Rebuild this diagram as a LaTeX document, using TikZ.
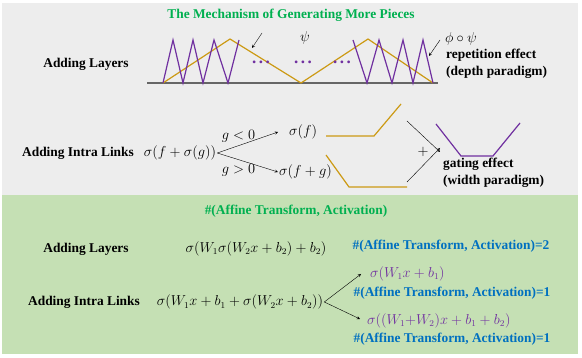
\documentclass[tikz,border=0pt]{standalone}
\usepackage{fontspec}
\setmainfont{Liberation Serif}
\usetikzlibrary{positioning}
\definecolor{titlegreen}{HTML}{00B050}
\definecolor{countblue}{HTML}{0070C0}
\definecolor{zigpurple}{HTML}{7030A0}
\definecolor{waveorange}{HTML}{CC9A14}
\definecolor{panelgray}{HTML}{EDEDED}
\definecolor{panelgreen}{HTML}{C5E0B4}
\newcommand{\bigtext}{\fontsize{13.4}{17}\selectfont}
\newcommand{\wideellipsis}{.\kern2.5pt.\kern2.5pt.}
\begin{document}
\begin{tikzpicture}[
        x=1pt, y=-1pt,
        heading/.style={font=\bigtext\bfseries, inner sep=1pt},
        title/.style={font=\bigtext\bfseries, text=titlegreen, inner sep=1pt},
        count/.style={font=\bigtext\bfseries, text=countblue, inner sep=1pt},
        formula/.style={font=\bigtext, inner sep=1pt},
        dotrow/.style={font=\fontsize{17}{20}\selectfont\bfseries, text=zigpurple, inner sep=0pt, anchor=base},
        note/.style={font=\bigtext\bfseries, align=left, anchor=west, inner sep=0pt},
        zig/.style={draw=zigpurple, line width=1.2pt, line join=miter},
        wave/.style={draw=waveorange, line width=1.2pt},
        >=stealth
    ]
        \useasboundingbox (0,0) rectangle (582,358);
        \fill[panelgray] (2,3) rectangle (578,195);
        \fill[panelgreen] (2,195) rectangle (578,354);

        % upper panel: adding layers
        \node[title] (mech) at (291,15) {The Mechanism of Generating More Pieces};
        \node[heading] (layers) at (86,64) {Adding Layers};
        \draw[gray!80!black, line width=1.3pt] (147,83) -- (438,83);
        \draw[wave] (163,83) -- (230,39) -- (301,83) -- (368,39) -- (433,83);
        \draw[zig] (163,83) -- (173,40) -- (183,83) -- (193,40) -- (203,83) -- (214,40) -- (228,83) -- (239,40);
        \draw[zig] (353,40) -- (367,83) -- (379,40) -- (392,83) -- (403,40) -- (413,83) -- (423,40) -- (433,83);
        \node[dotrow] (dotsl) at (261,64) {\wideellipsis};
        \node[dotrow] (dotsm) at (303,64) {\wideellipsis};
        \node[dotrow] (dotsr) at (342,64) {\wideellipsis};
        \node[formula] (psi) at (305,38) {$\psi$};
        \coordinate (psitip) at (252,48);
        \coordinate (phitip) at (429,56);
        \node[formula] (phipsi) at (461,39) {$\phi\circ\psi$};
        \node[note] (repeat) at (446,63.5) {repetition effect\\(depth paradigm)};
        \draw[->] (262,33) -- (psitip);
        \draw[->] (440,40) -- (phitip);

        % upper panel: adding intra links
        \node[heading] (intra) at (78,153) {Adding Intra Links};
        \node[formula] (sfg) at (180,153) {$\sigma(f+\sigma(g))$};
        \node[formula, anchor=west] (sf) at (288,132) {$\sigma(f)$};
        \node[formula, anchor=west] (sfplus) at (278,172) {$\sigma(f+g)$};
        \draw[->] (sfg.east) -- node[formula, pos=0.35, above=2pt] {$g<0$} ([xshift=-10pt]sf.west);
        \draw[->] (sfg.east) -- node[formula, pos=0.35, below=3pt] {$g>0$} (sfplus.west);
        \draw[wave] (326,136) -- (374,136) -- (401,104);
        \draw[wave] (326,155) -- (349,187) -- (407,187);
        \node[formula] (plus) at (423,152) {$+$};
        \coordinate (gate) at (440,150);
        \draw[->] (407,121) -- ([yshift=-2pt]gate);
        \draw[->] (407,182) -- ([yshift=2pt]gate);
        \draw[zig] (436,124) -- (461,156) -- (493,156) -- (520,123);
        \node[note] (gating) at (443,173) {gating effect\\(width paradigm)};

        % lower panel
        \node[title] (affine) at (296,211) {\#(Affine Transform, Activation)};
        \node[heading] (layers2) at (86,249) {Adding Layers};
        \node[formula] (deep) at (256,249) {$\sigma(W_1\sigma(W_2x+b_2)+b_2)$};
        \node[count] (two) at (451,246) {\#(Affine Transform, Activation)=2};
        \node[heading] (intra2) at (84,302) {Adding Intra Links};
        \node[formula] (wide) at (240,302) {$\sigma\Big(W_1x+b_1+\sigma(W_2x+b_2)\Big)$};
        \node[formula, text=zigpurple, anchor=west] (neg) at (369,274) {$\sigma(W_1x+b_1)$};
        \node[count] (onea) at (452,293) {\#(Affine Transform, Activation)=1};
        \node[formula, text=zigpurple, anchor=west] (pos) at (366,321) {$\sigma\big((W_1{+}W_2)x+b_1+b_2\big)$};
        \node[count] (oneb) at (452,339) {\#(Affine Transform, Activation)=1};
        \draw[->] (wide.east) -- ([xshift=-8pt]neg.west);
        \draw[->] (wide.east) -- ([xshift=-6pt,yshift=2pt]pos.west);
    \end{tikzpicture}
\end{document}
